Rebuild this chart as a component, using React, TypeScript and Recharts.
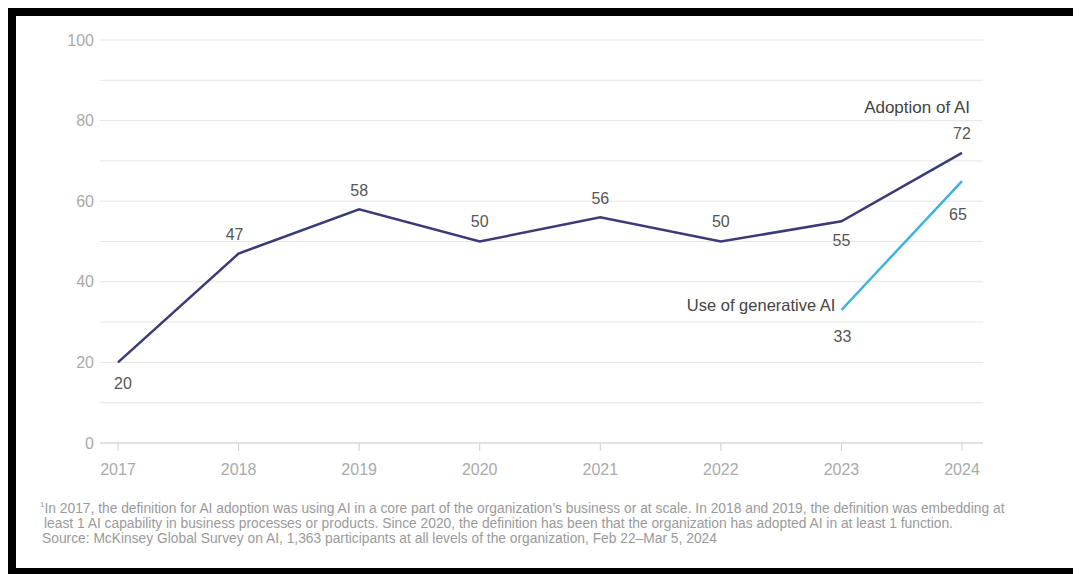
import { LineChart, Line, XAxis, YAxis, ReferenceLine, LabelList } from 'recharts';

const YEARS = ['2017', '2018', '2019', '2020', '2021', '2022', '2023', '2024'];
const ADOPTION = [20, 47, 58, 50, 56, 50, 55, 72];
const GEN_AI = [null, null, null, null, null, null, 33, 65];
const Y_TICKS = [0, 20, 40, 60, 80, 100];
const GRID_VALUES = [0, 10, 20, 30, 40, 50, 60, 70, 80, 90, 100];
const FOOTNOTE = [
  'In 2017, the definition for AI adoption was using AI in a core part of the organization\u2019s business or at scale. In 2018 and 2019, the definition was embedding at',
  'least 1 AI capability in business processes or products. Since 2020, the definition has been that the organization has adopted AI in at least 1 function.',
  'Source: McKinsey Global Survey on AI, 1,363 participants at all levels of the organization, Feb 22\u2013Mar 5, 2024',
];

const data = YEARS.map((year, i) => ({ year, adoption: ADOPTION[i], genai: GEN_AI[i] }));

const NAVY = '#3a3b78';
const SKY = '#3db2e3';
const FONT = '"Liberation Sans", Arial, sans-serif';

// label offsets per point (dx, dy from the point)
const ADOPTION_OFFSETS = [
  [5, 22], [-4, -18], [0, -17], [0, -19], [0, -18], [0, -19], [0, 20], [0, -18],
];
const GEN_AI_OFFSETS: Record<number, number[]> = { 6: [1, 28], 7: [-4, 35] };

const valueText = (x: number, y: number, v: any, key: string) => (
  <text key={key} x={x} y={y} textAnchor="middle" dominantBaseline="middle" fill="#555" fontSize={16} fontFamily={FONT}>
    {v}
  </text>
);

const AdoptionLabel = (props: any) => {
  const { x, y, value, index } = props;
  if (value == null) return null;
  const [dx, dy] = ADOPTION_OFFSETS[index];
  return (
    <g>
      {valueText(x + dx, y + dy, value, 'v')}
      {index === ADOPTION.length - 1 && (
        <text x={x + 8} y={y - 44} textAnchor="end" dominantBaseline="middle" fill="#444" fontSize={17} fontFamily={FONT}>
          Adoption of AI
        </text>
      )}
    </g>
  );
};

const GenAiLabel = (props: any) => {
  const { x, y, value, index } = props;
  if (value == null || !GEN_AI_OFFSETS[index]) return null;
  const [dx, dy] = GEN_AI_OFFSETS[index];
  return (
    <g>
      {valueText(x + dx, y + dy, value, 'v')}
      {index === 6 && (
        <text x={x - 6} y={y - 3} textAnchor="end" dominantBaseline="middle" fill="#444" fontSize={16.5} fontFamily={FONT}>
          Use of generative AI
        </text>
      )}
    </g>
  );
};

export default function App() {
  const tickStyle = { fill: '#aaa', fontSize: 16, fontFamily: FONT };
  return (
    <div
      style={{
        borderTop: '8px solid #000',
        borderLeft: '8px solid #000',
        borderBottom: '8px solid #000',
        height: 552,
        width: 1070,
        background: '#fff',
        boxSizing: 'content-box',
      }}
    >
      <style>{'html,body{overflow:hidden}'}</style>
      <LineChart width={1065} height={480} data={data} margin={{ top: 24, right: 0, bottom: 0, left: 0 }}>
        {GRID_VALUES.map((v) => (
          <ReferenceLine key={v} yAxisId="left" y={v} stroke="#e6e6e6" strokeWidth={1} />
        ))}
        <XAxis
          dataKey="year"
          height={53}
          padding={{ left: 18, right: 21 }}
          axisLine={{ stroke: '#d0d0d0' }}
          tickLine={{ stroke: '#d0d0d0' }}
          tickSize={8}
          tickMargin={13}
          tick={tickStyle}
          interval={0}
        />
        <YAxis
          yAxisId="left"
          domain={[0, 100]}
          ticks={Y_TICKS}
          width={84}
          axisLine={false}
          tickLine={false}
          tickSize={0}
          tickMargin={6}
          tick={tickStyle}
        />
        <YAxis
          yAxisId="right"
          orientation="right"
          domain={[0, 100]}
          ticks={Y_TICKS}
          width={98}
          axisLine={false}
          tickLine={false}
          tickSize={0}
          tickMargin={10}
          tick={tickStyle}
        />
        <Line
          yAxisId="left"
          type="linear"
          dataKey="adoption"
          stroke={NAVY}
          strokeWidth={2.5}
          dot={false}
          activeDot={false}
          isAnimationActive={false}
        >
          <LabelList dataKey="adoption" content={AdoptionLabel} />
        </Line>
        <Line
          yAxisId="left"
          type="linear"
          dataKey="genai"
          stroke={SKY}
          strokeWidth={2.5}
          dot={false}
          activeDot={false}
          connectNulls={false}
          isAnimationActive={false}
        >
          <LabelList dataKey="genai" content={GenAiLabel} />
        </Line>
      </LineChart>
      <div style={{ paddingLeft: 24, marginTop: 5, fontFamily: FONT, fontSize: 13.8, lineHeight: '15px', color: '#9a9a9a' }}>
        <div style={{ whiteSpace: 'nowrap' }}>
          <sup style={{ fontSize: 8, lineHeight: 0 }}>1</sup>
          {FOOTNOTE[0]}
        </div>
        <div style={{ whiteSpace: 'nowrap', paddingLeft: 4 }}>{FOOTNOTE[1]}</div>
        <div style={{ whiteSpace: 'nowrap', paddingLeft: 2 }}>{FOOTNOTE[2]}</div>
      </div>
    </div>
  );
}
